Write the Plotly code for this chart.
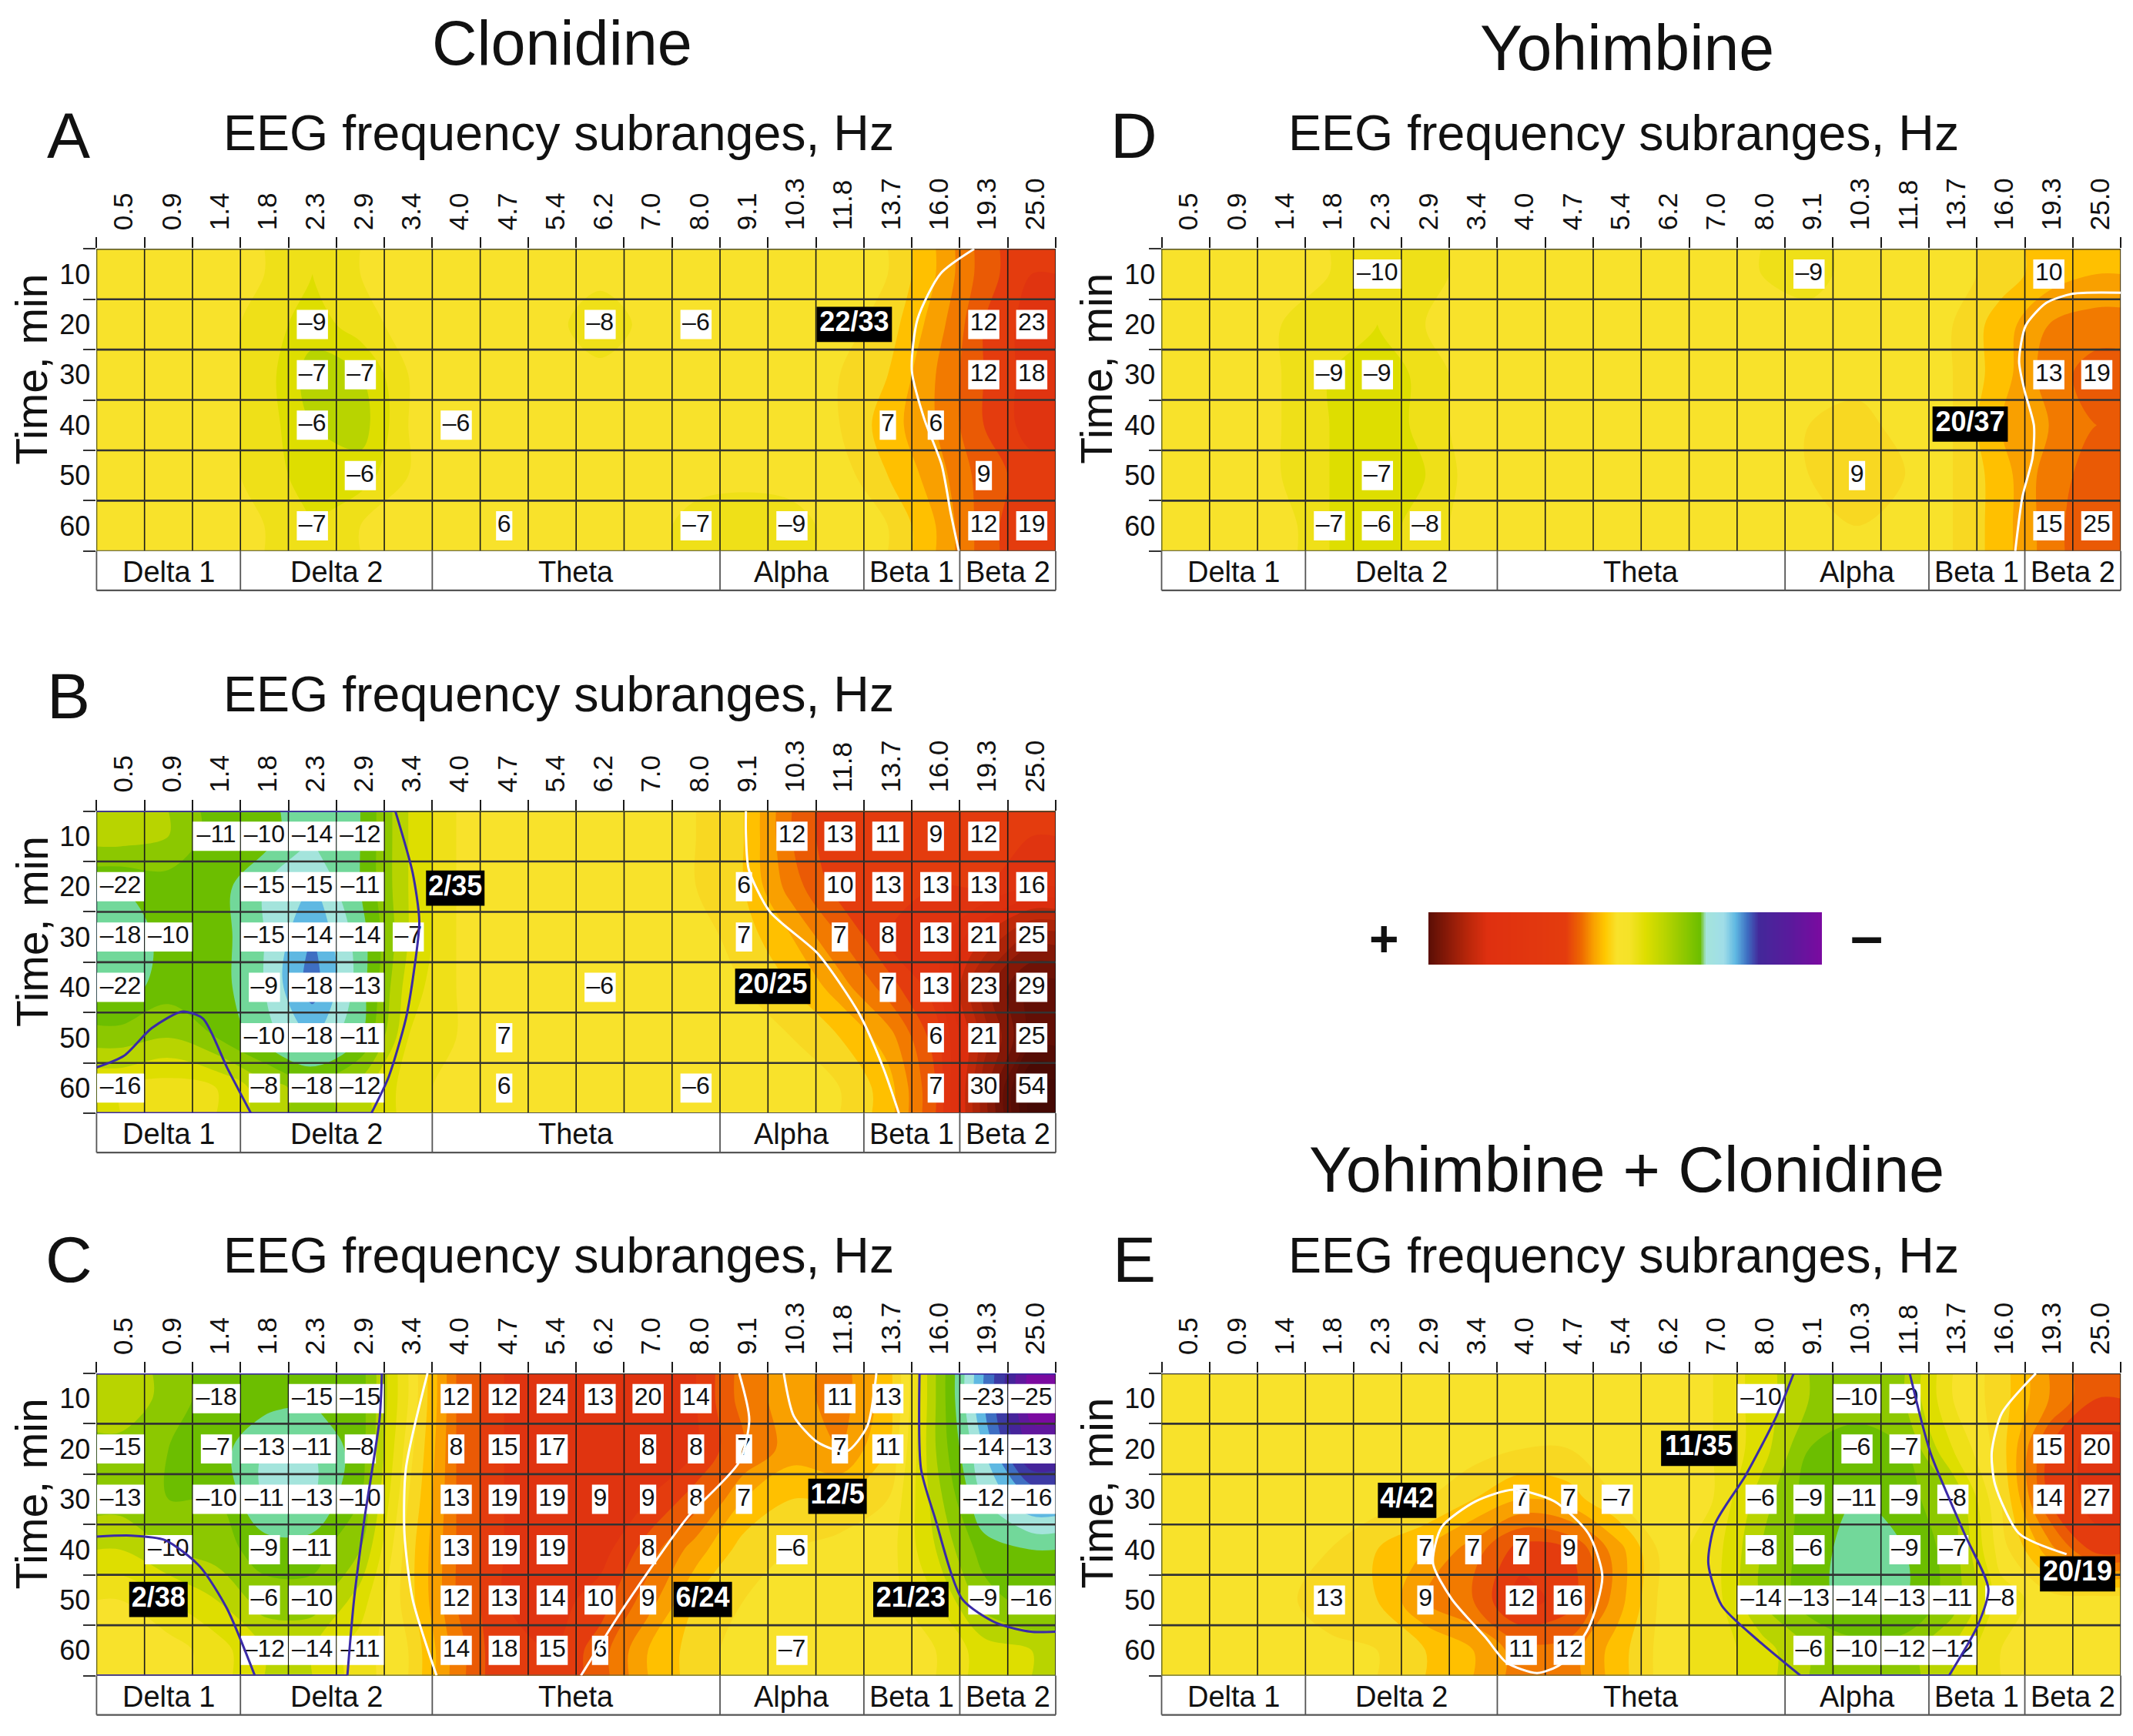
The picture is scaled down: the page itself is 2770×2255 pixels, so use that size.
import numpy as np
import plotly.graph_objects as go

W, H = 2770, 2255
FONT = "Liberation Sans"
PAGE = 8  # the browser page keeps an 8px body margin

freqs = ["0.5", "0.9", "1.4", "1.8", "2.3", "2.9", "3.4", "4.0", "4.7", "5.4",
         "6.2", "7.0", "8.0", "9.1", "10.3", "11.8", "13.7", "16.0", "19.3", "25.0"]
times = ["10", "20", "30", "40", "50", "60"]
bands = ["Delta 1", "Delta 2", "Theta", "Alpha", "Beta 1", "Beta 2"]
band_edges = [0, 3, 7, 13, 16, 18, 20]

# colour level of each cell
field_a = [
    [0, 0, 0, -1, -3, -1, 0, 0, 0, 0, 0, 0, 0, 0, 0, 0, 1, 5, 10, 13],
    [0, 0, 0, -2, -4, -2, 0, 0, 0, 0, -3, 0, -1, 0, 0, 0, 2, 6, 11, 14],
    [0, 0, 0, -2, -6, -5, -1, 0, 0, 0, 0, 0, 0, 0, 0, 1, 3, 7, 11, 14],
    [0, 0, 0, -2, -5, -6, -1, 0, 0, 0, 0, 0, 0, 0, 0, 1, 4, 7, 11, 14],
    [0, 0, 0, -2, -4, -4, -1, 0, 0, 0, 0, 0, 0, 0, 0, 0, 3, 6, 10, 12],
    [0, 0, 0, -1, -3, -1, 0, 0, 1, 0, 0, 0, -2, -3, -2, 0, 1, 5, 10, 13],
]
field_b = [
    [-6, -7, -10, -10, -13, -11, -5, -1, 0, 0, 0, 0, 1, 3, 9, 13, 13, 13, 13, 13],
    [-11, -10, -10, -13, -15, -11, -5, -1, 0, 0, 0, 0, 1, 3, 8, 12, 13, 13, 13, 15],
    [-13, -10, -10, -13, -17, -12, -5, -1, 0, 0, 0, 0, 0, 2, 5, 9, 13, 14, 19, 24],
    [-12, -10, -10, -13, -18, -12, -4, -1, 1, 0, 0, 0, 0, 1, 3, 6, 10, 14, 24, 30],
    [-8, -7, -9, -12, -15, -11, -3, -1, 1, 1, 0, 0, 0, 0, 1, 3, 6, 12, 22, 30],
    [-3, -2, -3, -6, -8, -6, -2, 0, 1, 1, 0, 0, 1, 0, 0, 1, 4, 11, 24, 36],
]
field_c = [
    [-5, -8, -10, -10, -11, -10, -1, 9, 13, 14, 14, 14, 13, 8, 6, 8, 4, -7, -17, -26],
    [-8, -9, -10, -13, -13, -10, 0, 9, 13, 14, 14, 14, 13, 9, 6, 7, 3, -7, -15, -24],
    [-8, -9, -9, -13, -13, -9, 1, 9, 13, 14, 14, 13, 10, 5, 3, 3, 1, -6, -13, -17],
    [-5, -7, -8, -10, -10, -7, 2, 9, 13, 14, 14, 10, 6, 2, 1, 0, 0, -5, -10, -11],
    [-1, -3, -5, -8, -8, -4, 2, 9, 13, 14, 12, 8, 3, 1, 0, 0, 0, -3, -8, -10],
    [0, 0, -2, -5, -5, -2, 1, 8, 13, 13, 10, 5, 2, 0, 0, 0, 0, -1, -4, -5],
]
field_d = [
    [0, 0, 0, -1, -3, -2, 0, 0, 0, 0, 0, 0, -1, -2, 0, 0, 0, 2, 4, 5],
    [0, 0, -1, -2, -3, -1, 0, 0, 0, 0, 0, 0, 0, 0, 0, 0, 1, 4, 7, 8],
    [0, 0, -1, -3, -5, -2, 0, 0, 0, 0, 0, 0, 0, 0, 0, 0, 1, 4, 8, 10],
    [0, 0, -1, -3, -5, -2, 0, 0, 0, 0, 0, 0, 0, 1, 2, 0, 1, 5, 7, 9],
    [0, 0, -1, -3, -5, -3, 0, 0, 0, 0, 0, 0, 0, 1, 2, 1, 1, 4, 8, 10],
    [0, 0, 0, -3, -4, -2, 0, 0, 0, 0, 0, 0, 0, 0, 1, 0, 1, 4, 8, 11],
]
field_e = [
    [0, 0, 0, 0, 0, 0, 0, 0, 0, 0, 0, -1, -4, -7, -8, -7, -1, 2, 7, 11],
    [0, 0, 0, 0, 0, 0, 0, 1, 1, 0, 0, -1, -4, -9, -10, -9, -3, 2, 11, 14],
    [0, 0, 0, 0, 0, 1, 3, 5, 4, 1, 0, -1, -6, -10, -11, -10, -7, 1, 11, 14],
    [0, 0, 0, 1, 3, 5, 8, 12, 11, 6, 0, -2, -7, -10, -12, -11, -8, 0, 6, 12],
    [0, 0, 0, 3, 3, 7, 9, 14, 12, 6, 0, -2, -7, -10, -12, -11, -8, -2, 0, 0],
    [0, 0, 0, 0, 1, 3, 5, 8, 8, 4, 0, -2, -4, -7, -8, -8, -5, -1, 0, 0],
]

# numbers printed in the cells: one {column: value} per row
labels_a = [
    {},
    {4: -9, 10: -8, 12: -6, 18: 12, 19: 23},
    {4: -7, 5: -7, 18: 12, 19: 18},
    {4: -6, 7: -6, 16: 7, 17: 6},
    {5: -6, 18: 9},
    {4: -7, 8: 6, 12: -7, 14: -9, 18: 12, 19: 19},
]
labels_b = [
    {2: -11, 3: -10, 4: -14, 5: -12, 14: 12, 15: 13, 16: 11, 17: 9, 18: 12},
    {0: -22, 3: -15, 4: -15, 5: -11, 13: 6, 15: 10, 16: 13, 17: 13, 18: 13, 19: 16},
    {0: -18, 1: -10, 3: -15, 4: -14, 5: -14, 6: -7, 13: 7, 15: 7, 16: 8, 17: 13, 18: 21, 19: 25},
    {0: -22, 3: -9, 4: -18, 5: -13, 10: -6, 16: 7, 17: 13, 18: 23, 19: 29},
    {3: -10, 4: -18, 5: -11, 8: 7, 17: 6, 18: 21, 19: 25},
    {0: -16, 3: -8, 4: -18, 5: -12, 8: 6, 12: -6, 17: 7, 18: 30, 19: 54},
]
labels_c = [
    {2: -18, 4: -15, 5: -15, 7: 12, 8: 12, 9: 24, 10: 13, 11: 20, 12: 14, 15: 11, 16: 13, 18: -23, 19: -25},
    {0: -15, 2: -7, 3: -13, 4: -11, 5: -8, 7: 8, 8: 15, 9: 17, 11: 8, 12: 8, 13: 7, 15: 7, 16: 11, 18: -14, 19: -13},
    {0: -13, 2: -10, 3: -11, 4: -13, 5: -10, 7: 13, 8: 19, 9: 19, 10: 9, 11: 9, 12: 8, 13: 7, 18: -12, 19: -16},
    {1: -10, 3: -9, 4: -11, 7: 13, 8: 19, 9: 19, 11: 8, 14: -6},
    {3: -6, 4: -10, 7: 12, 8: 13, 9: 14, 10: 10, 11: 9, 18: -9, 19: -16},
    {3: -12, 4: -14, 5: -11, 7: 14, 8: 18, 9: 15, 10: 6, 14: -7},
]
labels_d = [
    {4: -10, 13: -9, 18: 10},
    {},
    {3: -9, 4: -9, 18: 13, 19: 19},
    {},
    {4: -7, 14: 9},
    {3: -7, 4: -6, 5: -8, 18: 15, 19: 25},
]
labels_e = [
    {12: -10, 14: -10, 15: -9},
    {14: -6, 15: -7, 18: 15, 19: 20},
    {7: 7, 8: 7, 9: -7, 12: -6, 13: -9, 14: -11, 15: -9, 16: -8, 18: 14, 19: 27},
    {5: 7, 6: 7, 7: 7, 8: 9, 12: -8, 13: -6, 15: -9, 16: -7},
    {3: 13, 5: 9, 7: 12, 8: 16, 12: -14, 13: -13, 14: -14, 15: -13, 16: -11, 17: -8},
    {7: 11, 8: 12, 13: -6, 14: -10, 15: -12, 16: -12},
]

# black boxes: (text, column, row)
black_a = [("22/33", 15.8, 1.5)]
black_b = [("2/35", 7.48, 1.53), ("20/25", 14.1, 3.48)]
black_c = [("2/38", 1.29, 4.49), ("12/5", 15.45, 2.44), ("6/24", 12.64, 4.49), ("21/23", 16.98, 4.49)]
black_d = [("20/37", 16.86, 3.48)]
black_e = [("4/42", 5.12, 2.52), ("11/35", 11.2, 1.49), ("20/19", 19.1, 3.98)]

# significance outlines (column, row)
white_a = [([18.3, 17.6, 17.12, 17.0, 17.26, 17.62, 17.81, 17.98], [0, .49, 1.39, 2.42, 3.38, 4.28, 5.24, 6])]
blue_a = []
white_b = [([13.54, 13.54, 13.6, 14.04, 15.04, 15.9, 16.4, 16.73], [0, .45, 1.16, 2.0, 2.83, 4.02, 5.09, 6])]
blue_b = [
    ([6.23, 6.59, 6.73, 6.62, 6.45, 6.09, 5.73], [0, 1.22, 2.19, 3.16, 4.12, 5.28, 6]),
    ([0, .57, 1.15, 1.79, 2.22, 2.72, 3.22], [5.09, 4.86, 4.31, 3.98, 4.12, 5.09, 6]),
    ([0, 5.73], [6, 6]),
    ([0, 6.23], [0, 0]),
]
white_c = [
    ([6.9, 6.45, 6.42, 6.59, 7.09], [0, 1.89, 3.18, 4.48, 6]),
    ([13.4, 13.61, 13.4, 12.32, 11.53, 10.89, 10.1], [0, .92, 1.76, 2.86, 3.9, 4.8, 6]),
    ([14.33, 14.54, 15.04, 15.64, 16.07, 16.26], [0, .85, 1.37, 1.55, 1.05, 0]),
]
blue_c = [
    ([5.95, 5.9, 5.59, 5.37, 5.23], [0, .92, 2.86, 4.48, 6]),
    ([0, .72, 1.43, 2.15, 2.72, 3.3], [3.24, 3.22, 3.31, 3.83, 4.67, 6]),
    ([17.16, 17.19, 17.48, 18.05, 18.77, 19.48, 20], [0, 1.89, 2.86, 4.48, 4.96, 5.13, 5.13]),
    ([0, 5.23], [6, 6]),
    ([0, 5.95], [0, 0]),
    ([17.16, 20], [0, 0]),
]
white_d = [([20, 19.0, 18.45, 18.02, 17.88, 17.99, 18.19, 18.16, 17.95, 17.8],
            [.87, .89, 1.07, 1.52, 2.23, 2.8, 3.51, 4.15, 4.92, 6])]
blue_d = []
white_e = [
    ([7.34, 6.55, 5.84, 5.66, 6.05, 6.77, 7.19, 7.83, 8.33, 8.9, 9.19, 8.9, 8.19, 7.34],
     [2.31, 2.54, 3.05, 3.77, 4.48, 5.26, 5.74, 5.95, 5.77, 5.06, 4.03, 3.18, 2.54, 2.31]),
    ([18.23, 17.52, 17.31, 17.38, 17.88, 18.87], [0, .79, 1.57, 2.21, 3.18, 3.59]),
]
blue_e = [
    ([13.18, 12.82, 12.18, 11.54, 11.4, 11.68, 12.46, 13.32], [0, .85, 2.02, 2.99, 3.77, 4.61, 5.32, 6]),
    ([15.6, 16.03, 16.74, 17.24, 17.02, 16.42], [0, 1.57, 3.18, 4.28, 5.0, 6]),
    ([13.32, 16.42], [6, 6]),
    ([13.18, 15.6], [0, 0]),
]

# colours of the contour bands
level_values = [-31, -26, -22, -20, -18, -16, -14, -12, -10, -8, -6, -4, -2, 0,
                2, 4, 6, 8, 10, 12, 14, 18, 20, 24, 28, 34, 41]
level_colors = ["#7B0AA0", "#7B0AA0", "#45249A", "#3C3AA4", "#3E6EC2", "#5FB8E2", "#A4E4DC", "#72D89A",
                "#6CBE00", "#8CC800", "#B8D400", "#DEDE00", "#EFE018", "#F8E22B",
                "#F8D822", "#FFC000", "#F9A000", "#F27A00", "#EA5A05", "#E43C0E", "#E03410",
                "#DC2E0E", "#C02A0A", "#9A1E08", "#6E1206", "#4A0A04", "#3A0803"]
# the + ... - bar
legend_pos = [0, .05, .10, .15, .35, .39, .42, .45, .48, .51, .55, .60, .69, .705, .75, .78, .81, .84, .92, 1]
legend_colors = ["#5A0E05", "#8A1A08", "#B8260A", "#DF3010", "#E43C0E", "#EE6A00", "#F9A000", "#FFC800", "#F8E22B",
                 "#F5E228", "#DEDE00", "#B8D400", "#6CBE00", "#A4E4DC", "#A0DDE8", "#5FB8E2", "#3E6EC2",
                 "#43289A", "#5A1A9C", "#7B0AA0"]

panel_letters = ["A", "B", "C", "D", "E"]
panel_left = [125.4, 125.4, 125.4, 1508.5, 1508.5]
panel_top = [323.3, 1053.6, 1784.0, 323.3, 1784.0]
title_y = [173, 902, 1631, 173, 1631]
letter_y = [176, 904, 1636, 176, 1636]
panel_w, panel_h = 1245.6, 392.5
all_fields = [field_a, field_b, field_c, field_d, field_e]
all_labels = [labels_a, labels_b, labels_c, labels_d, labels_e]
all_black = [black_a, black_b, black_c, black_d, black_e]
all_white = [white_a, white_b, white_c, white_d, white_e]
all_blue = [blue_a, blue_b, blue_c, blue_d, blue_e]

colorscale = [[(v - level_values[0]) / (level_values[-1] - level_values[0]), c]
              for v, c in zip(level_values, level_colors)]
x_grid = [0] + [i + .5 for i in range(20)] + [20]
y_grid = [0] + [i + .5 for i in range(6)] + [6]

fig = go.Figure()
annotations = []
shapes = []


def note(text, x, y, size, bold=False, angle=0):
    annotations.append(dict(
        text=f"<b>{text}</b>" if bold else text, x=(x - PAGE) / W, y=1 - (y - PAGE) / H, xref="paper", yref="paper",
        showarrow=False, xanchor="center", yanchor="middle", textangle=angle,
        font=dict(family=FONT, size=size, color="#111111")))


def boxes(items, height):
    xs, ys = [], []
    for c, r, w in items:
        xs += [c - w / 2, c + w / 2, c + w / 2, c - w / 2, c - w / 2, None]
        ys += [r - height / 2, r - height / 2, r + height / 2, r + height / 2, r - height / 2, None]
    return xs, ys


for p in range(5):
    n = p + 1
    sx = "" if n == 1 else str(n)
    xa, ya = f"x{sx}", f"y{sx}"
    common = dict(xaxis=xa, yaxis=ya, showlegend=False, hoverinfo="skip")

    # filled bands
    z = np.pad(np.array(all_fields[p], dtype=float), 1, mode="edge")
    fig.add_trace(go.Contour(
        x=x_grid, y=y_grid, z=z, colorscale=colorscale, zmin=level_values[0], zmax=level_values[-1],
        autocontour=False, contours=dict(start=-31, end=41, size=2, coloring="fill", showlines=False),
        line=dict(width=0, smoothing=1), showscale=False, xaxis=xa, yaxis=ya, hoverinfo="skip"))

    # grid
    gx, gy = [], []
    for i in range(21):
        gx += [i, i, None]
        gy += [0, 6, None]
    fig.add_trace(go.Scatter(x=gx, y=gy, mode="lines", line=dict(color="#1a1a1a", width=1.6), cliponaxis=False, **common))
    gx, gy = [], []
    for i in range(6):
        gx += [0, 20, None]
        gy += [i, i, None]
    fig.add_trace(go.Scatter(x=gx, y=gy, mode="lines", line=dict(color="#333333", width=2.6), cliponaxis=False, **common))
    fig.add_trace(go.Scatter(x=[0, 20], y=[6, 6], mode="lines", line=dict(color="#555555", width=2), cliponaxis=False, **common))

    # frequency band row under the map
    row_depth = .78 / 6
    for e in band_edges:
        shapes.append(dict(type="line", xref=f"{xa} domain", yref=f"{ya} domain", x0=e / 20, x1=e / 20, y0=0, y1=-row_depth,
                           line=dict(color="#555555", width=1.8)))
    shapes.append(dict(type="line", xref=f"{xa} domain", yref=f"{ya} domain", x0=0, x1=1, y0=-row_depth, y1=-row_depth,
                       line=dict(color="#555555", width=2.2)))
    for i, name in enumerate(bands):
        annotations.append(dict(text=name, xref=xa, yref=f"{ya} domain", x=(band_edges[i] + band_edges[i + 1]) / 2,
                                y=-.069, showarrow=False, xanchor="center", yanchor="middle",
                                font=dict(family=FONT, size=38, color="#111111")))

    # cell numbers
    widths = {1: .34, 2: .65, 3: .98}
    cols, rows, texts, items = [], [], [], []
    for r, row in enumerate(all_labels[p]):
        for c, v in row.items():
            t = f"–{abs(v)}" if v < 0 else str(v)
            cols.append(c + .5)
            rows.append(r + .5)
            texts.append(t)
            items.append((c + .5, r + .5, widths[len(t)]))
    bx, by = boxes(items, .58)
    fig.add_trace(go.Scatter(x=bx, y=by, mode="lines", fill="toself", fillcolor="white", line=dict(width=0), **common))
    fig.add_trace(go.Scatter(x=cols, y=rows, mode="text", text=texts,
                             textfont=dict(family=FONT, size=32, color="#111111"), **common))

    # black boxes
    bw = [(c, r, 1.57 if len(t) == 5 else 1.22) for t, c, r in all_black[p]]
    bx, by = boxes(bw, .7)
    fig.add_trace(go.Scatter(x=bx, y=by, mode="lines", fill="toself", fillcolor="black", line=dict(width=0), cliponaxis=False, **common))
    fig.add_trace(go.Scatter(x=[b[1] for b in all_black[p]], y=[b[2] for b in all_black[p]], mode="text",
                             text=[f"<b>{b[0]}</b>" for b in all_black[p]], cliponaxis=False,
                             textfont=dict(family=FONT, size=36, color="white"), **common))

    # outlines
    for cx, cy in all_white[p]:
        fig.add_trace(go.Scatter(x=cx, y=cy, mode="lines", cliponaxis=False,
                                 line=dict(color="white", width=3, shape="spline", smoothing=.7), **common))
    for cx, cy in all_blue[p]:
        fig.add_trace(go.Scatter(x=cx, y=cy, mode="lines", cliponaxis=False,
                                 line=dict(color="#3A2AA8", width=3, shape="spline", smoothing=.7), **common))

    left, top = panel_left[p] - PAGE, panel_top[p] - PAGE
    fig.layout[f"xaxis{sx}"] = dict(
        domain=[left / W, (left + panel_w) / W], range=[0, 20], side="top", anchor=ya,
        tickmode="array", tickvals=[i + .57 for i in range(20)], ticktext=freqs, tickangle=-90,
        ticks="outside", ticklen=16, tickcolor="rgba(0,0,0,0)", showgrid=False, zeroline=False,
        tickfont=dict(family=FONT, size=35, color="#111111"),
        minor=dict(tickmode="array", tickvals=list(range(21)), ticks="outside", ticklen=14, tickwidth=1.6,
                   tickcolor="#1a1a1a", showgrid=False))
    fig.layout[f"yaxis{sx}"] = dict(
        domain=[1 - (top + panel_h) / H, 1 - top / H], range=[6, 0], anchor=xa,
        tickmode="array", tickvals=[i + .5 for i in range(6)], ticktext=times,
        ticks="outside", ticklen=8, tickcolor="rgba(0,0,0,0)", showgrid=False, zeroline=False, ticklabelstandoff=-8,
        tickfont=dict(family=FONT, size=36, color="#111111"),
        minor=dict(tickmode="array", tickvals=list(range(7)), ticks="outside", ticklen=16, tickwidth=2.4,
                   tickcolor="#333333", showgrid=False))

    note("EEG frequency subranges, Hz", panel_left[p] + 600, title_y[p], 64.5)
    note(panel_letters[p], panel_left[p] - 36, letter_y[p], 84)
    note("Time, min", panel_left[p] - 84, panel_top[p] + 156, 57, angle=-90)

# colour bar
legend_scale = [[q, c] for q, c in zip(legend_pos, legend_colors)]
ramp = np.linspace(0, 1, 256)
fig.add_trace(go.Heatmap(x=ramp, y=[0, 1], z=[ramp, ramp], colorscale=legend_scale, zmin=0, zmax=1,
                         showscale=False, xaxis="x6", yaxis="y6", hoverinfo="skip"))
fig.layout["xaxis6"] = dict(domain=[(1855 - PAGE) / W, (2366 - PAGE) / W], visible=False, anchor="y6", range=[0, 1])
fig.layout["yaxis6"] = dict(domain=[1 - (1253 - PAGE) / H, 1 - (1185 - PAGE) / H], visible=False, anchor="x6", range=[0, 1])
note("+", 1797, 1219, 66, bold=True)
note("–", 2424, 1215, 76, bold=True)

note("Clonidine", 730, 56, 81)
note("Yohimbine", 2113, 62, 82.5)
note("Yohimbine + Clonidine", 2112, 1519, 83)

fig.update_layout(
    width=W, height=H, margin=dict(l=0, r=0, t=0, b=0), paper_bgcolor="white", plot_bgcolor="white",
    showlegend=False, annotations=annotations, shapes=shapes, font=dict(family=FONT))

fig.write_html("out.html")
